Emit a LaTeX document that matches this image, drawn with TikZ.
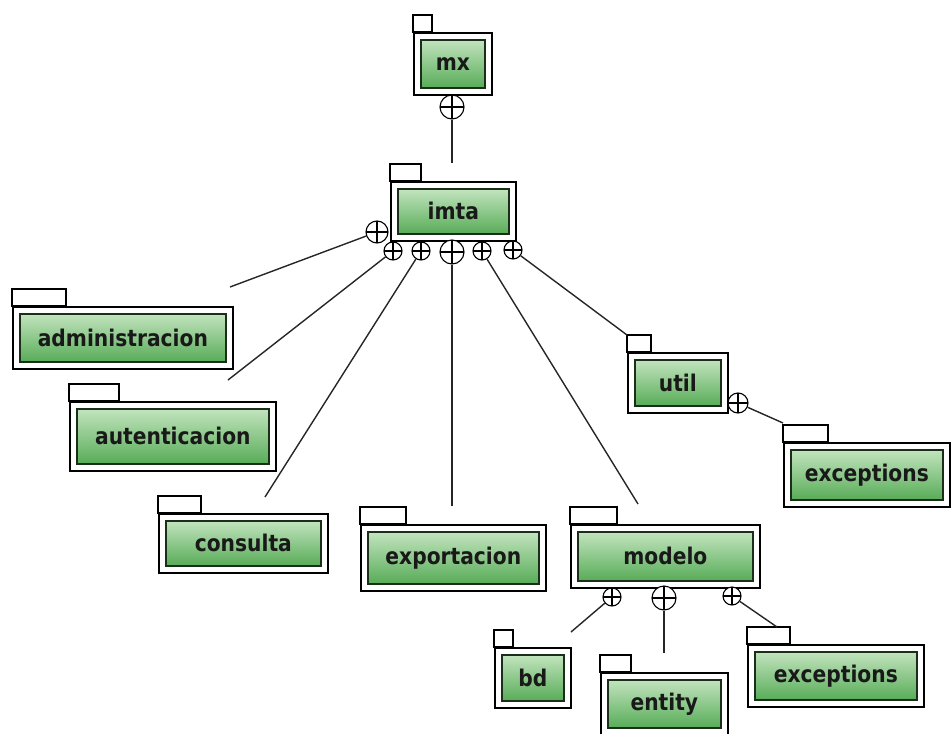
\documentclass[tikz,border=0pt]{standalone}
\usepackage{fontspec}
\usepackage{tikz}
\newfontfamily\pkgfont{DejaVu Sans}[FakeStretch=0.88]

\definecolor{pkgtop}{HTML}{C2E4BE}
\definecolor{pkgbot}{HTML}{58AC58}
\definecolor{pkgedge}{HTML}{1A2E1A}

% one UML package: name, x, y, width, height, tab width, label
\newcommand{\pkg}[7]{%
    \node[pkgbox, anchor=north west, minimum width=#4pt, minimum height=#5pt] (#1) at (#2,#3) {};
    \draw[pkgline] (#1.north west) rectangle ++(#6pt,17pt);
    \node[greenbox, minimum width=#4pt-14pt, minimum height=#5pt-14pt] (#1-in) at (#1.center) {#7};
}

\begin{document}
\begin{tikzpicture}[x=1pt, y=-1pt,
    pkgline/.style={draw=black, line width=1.7pt, fill=white},
    pkgbox/.style={pkgline, rectangle, inner sep=0pt},
    greenbox/.style={rectangle, draw=pkgedge, line width=1.6pt, top color=pkgtop, bottom color=pkgbot,
        inner sep=0pt, text=black!90, font=\pkgfont\bfseries\fontsize{23}{27}\selectfont},
    nest/.style={circle, draw=black, line width=1.1pt, fill=white, inner sep=0pt, minimum size=#1,
        path picture={\draw[line width=1.1pt] (path picture bounding box.north) -- (path picture bounding box.south)
            (path picture bounding box.west) -- (path picture bounding box.east);}},
    conn/.style={draw=black!85, line width=1.4pt}]

    \useasboundingbox (0,0) rectangle (951,734);

    \pkg{mx}{413}{32}{78}{62}{19}{mx}
    \pkg{imta}{390}{181}{125}{59}{31}{imta}
    \pkg{admin}{12}{306}{220}{62}{54}{administracion}
    \pkg{auten}{69}{401}{206}{69}{50}{autenticacion}
    \pkg{consulta}{158}{513}{169}{59}{43}{consulta}
    \pkg{export}{360}{524}{185}{66}{46}{exportacion}
    \pkg{modelo}{570}{524}{189}{63}{47}{modelo}
    \pkg{util}{627}{352}{100}{60}{24}{util}
    \pkg{utilexc}{783}{442}{166}{64}{45}{exceptions}
    \pkg{bd}{494}{647}{76}{60}{19}{bd}
    \pkg{entity}{600}{672}{127}{62}{31}{entity}
    \pkg{modexc}{747}{644}{176}{62}{43}{exceptions}

    \node[nest=24pt] (mx-c) at (452,107) {};
    \node[nest=22pt] (imta-c0) at (377,232) {};
    \node[nest=18pt] (imta-c1) at (393,251) {};
    \node[nest=18pt] (imta-c2) at (421,251) {};
    \node[nest=24pt] (imta-c3) at (452,252) {};
    \node[nest=18pt] (imta-c4) at (482,251) {};
    \node[nest=18pt] (imta-c5) at (513,250) {};
    \node[nest=20pt] (util-c) at (738,403) {};
    \node[nest=18pt] (modelo-c1) at (612,597) {};
    \node[nest=24pt] (modelo-c2) at (664,598) {};
    \node[nest=18pt] (modelo-c3) at (732,596) {};

    \coordinate (imta-end) at (452,163);
    \coordinate (admin-end) at (230,287);
    \coordinate (auten-end) at (228,380);
    \coordinate (consulta-end) at (265,497);
    \coordinate (export-end) at (452,506);
    \coordinate (modelo-end) at (638,504);
    \coordinate (util-end) at (627,335);
    \coordinate (utilexc-end) at (783,423);
    \coordinate (bd-end) at (571,632);
    \coordinate (entity-end) at (664,653);
    \coordinate (modexc-end) at (777,627);

    \draw[conn] (mx-c) -- (imta-end);
    \draw[conn] (imta-c0) -- (admin-end);
    \draw[conn] (imta-c1) -- (auten-end);
    \draw[conn] (imta-c2) -- (consulta-end);
    \draw[conn] (imta-c3) -- (export-end);
    \draw[conn] (imta-c4) -- (modelo-end);
    \draw[conn] (imta-c5) -- (util-end);
    \draw[conn] (util-c) -- (utilexc-end);
    \draw[conn] (modelo-c1) -- (bd-end);
    \draw[conn] (modelo-c2) -- (entity-end);
    \draw[conn] (modelo-c3) -- (modexc-end);

\end{tikzpicture}
\end{document}
